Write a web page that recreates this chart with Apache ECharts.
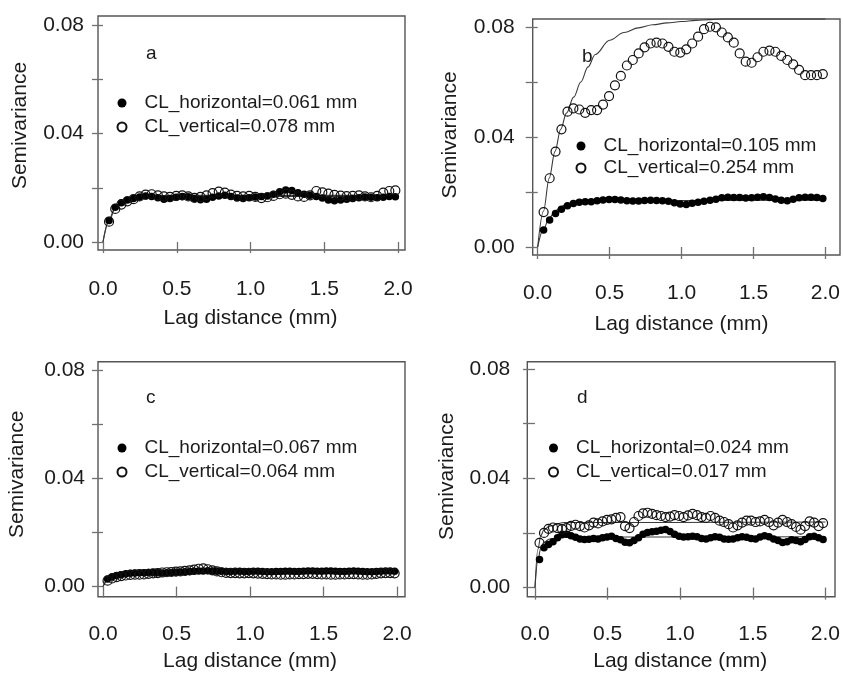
<!DOCTYPE html>
<html><head><meta charset="utf-8">
<script src="https://cdn.jsdelivr.net/npm/echarts@6/dist/echarts.min.js"></script>
<style>html,body{margin:0;background:#fff}#c{width:843px;height:673px}</style>
</head><body><div id="c"></div>
<script>
// ---- data ----
const xTicks = [0, 0.5, 1.0, 1.5, 2.0];
const yTicks = [0.00, 0.04, 0.08];
const panelLetters = ['a', 'b', 'c', 'd'];
const legendH = ['CL_horizontal=0.061 mm', 'CL_horizontal=0.105 mm', 'CL_horizontal=0.067 mm', 'CL_horizontal=0.024 mm'];
const legendV = ['CL_vertical=0.078 mm', 'CL_vertical=0.254 mm', 'CL_vertical=0.064 mm', 'CL_vertical=0.017 mm'];

const lags48 = [0.041,0.083,0.124,0.165,0.207,0.248,0.289,0.330,0.372,0.413,0.454,0.496,0.537,0.578,0.620,0.661,0.702,0.743,0.785,0.826,0.867,0.909,0.950,0.991,1.033,1.074,1.115,1.156,1.198,1.239,1.280,1.322,1.363,1.404,1.446,1.487,1.528,1.569,1.611,1.652,1.693,1.735,1.776,1.817,1.859,1.900,1.941,1.982];
const lags64 = [0.031,0.062,0.093,0.124,0.155,0.186,0.217,0.248,0.279,0.310,0.341,0.372,0.403,0.434,0.465,0.496,0.527,0.558,0.589,0.620,0.651,0.682,0.713,0.744,0.775,0.806,0.837,0.868,0.899,0.930,0.961,0.992,1.023,1.054,1.085,1.116,1.147,1.178,1.209,1.240,1.271,1.302,1.333,1.364,1.395,1.426,1.457,1.488,1.519,1.550,1.581,1.612,1.643,1.674,1.705,1.736,1.767,1.798,1.829,1.860,1.891,1.922,1.953,1.984];

const aHoriz = [0.0079,0.0128,0.0145,0.0155,0.0160,0.0166,0.0170,0.0168,0.0163,0.0158,0.0160,0.0165,0.0168,0.0167,0.0160,0.0156,0.0158,0.0165,0.0170,0.0172,0.0168,0.0162,0.0160,0.0163,0.0166,0.0168,0.0170,0.0176,0.0185,0.0192,0.0190,0.0182,0.0176,0.0172,0.0168,0.0162,0.0155,0.0152,0.0155,0.0158,0.0160,0.0163,0.0166,0.0165,0.0163,0.0165,0.0168,0.0167];
const aVert  = [0.0075,0.0122,0.0138,0.0150,0.0158,0.0168,0.0175,0.0176,0.0172,0.0168,0.0166,0.0170,0.0172,0.0168,0.0163,0.0166,0.0172,0.0180,0.0186,0.0182,0.0175,0.0170,0.0168,0.0170,0.0166,0.0162,0.0165,0.0170,0.0176,0.0178,0.0174,0.0168,0.0166,0.0172,0.0188,0.0183,0.0178,0.0174,0.0171,0.0169,0.0170,0.0172,0.0168,0.0165,0.0170,0.0182,0.0188,0.0190];
const bHoriz = [0.0062,0.0098,0.0122,0.0137,0.0150,0.0158,0.0163,0.0165,0.0165,0.0168,0.0171,0.0173,0.0173,0.0171,0.0168,0.0167,0.0167,0.0169,0.0170,0.0169,0.0168,0.0166,0.0161,0.0156,0.0155,0.0159,0.0163,0.0166,0.0170,0.0174,0.0179,0.0181,0.0180,0.0180,0.0178,0.0179,0.0181,0.0183,0.0180,0.0175,0.0170,0.0168,0.0174,0.0179,0.0181,0.0181,0.0180,0.0176];
const bVert  = [0.0127,0.0250,0.0347,0.0428,0.0492,0.0504,0.0500,0.0488,0.0498,0.0498,0.0518,0.0549,0.0588,0.0622,0.0660,0.0680,0.0704,0.0726,0.0740,0.0743,0.0740,0.0728,0.0710,0.0707,0.0719,0.0740,0.0765,0.0792,0.0801,0.0799,0.0780,0.0762,0.0743,0.0704,0.0674,0.0670,0.0690,0.0710,0.0714,0.0710,0.0695,0.0680,0.0664,0.0644,0.0625,0.0625,0.0625,0.0629];
const cHoriz = [0.0028,0.0036,0.0041,0.0044,0.0047,0.0049,0.0050,0.0051,0.0051,0.0052,0.0052,0.0051,0.0050,0.0051,0.0052,0.0053,0.0054,0.0055,0.0056,0.0057,0.0058,0.0058,0.0059,0.0058,0.0057,0.0057,0.0056,0.0056,0.0057,0.0057,0.0056,0.0056,0.0057,0.0057,0.0056,0.0055,0.0055,0.0056,0.0056,0.0057,0.0057,0.0056,0.0056,0.0057,0.0058,0.0058,0.0057,0.0057,0.0058,0.0058,0.0057,0.0056,0.0056,0.0057,0.0058,0.0057,0.0056,0.0055,0.0055,0.0056,0.0057,0.0058,0.0058,0.0057];
const cVert  = [0.0022,0.0030,0.0035,0.0039,0.0041,0.0043,0.0044,0.0044,0.0045,0.0047,0.0049,0.0050,0.0052,0.0053,0.0054,0.0055,0.0056,0.0058,0.0060,0.0063,0.0066,0.0067,0.0064,0.0060,0.0056,0.0053,0.0051,0.0050,0.0050,0.0049,0.0049,0.0050,0.0049,0.0048,0.0047,0.0046,0.0045,0.0045,0.0044,0.0044,0.0045,0.0045,0.0046,0.0046,0.0047,0.0047,0.0046,0.0045,0.0045,0.0044,0.0044,0.0045,0.0045,0.0046,0.0046,0.0045,0.0044,0.0044,0.0045,0.0047,0.0049,0.0050,0.0050,0.0049];
const dHoriz = [0.0103,0.0146,0.0158,0.0168,0.0182,0.0193,0.0195,0.0190,0.0184,0.0178,0.0176,0.0177,0.0180,0.0178,0.0182,0.0185,0.0188,0.0180,0.0175,0.0166,0.0164,0.0172,0.0182,0.0195,0.0202,0.0204,0.0206,0.0210,0.0213,0.0205,0.0195,0.0188,0.0185,0.0186,0.0188,0.0186,0.0180,0.0178,0.0182,0.0186,0.0184,0.0178,0.0177,0.0178,0.0182,0.0186,0.0184,0.0180,0.0178,0.0185,0.0190,0.0186,0.0178,0.0172,0.0165,0.0168,0.0175,0.0172,0.0168,0.0176,0.0186,0.0188,0.0182,0.0176];
const dVert  = [0.0164,0.0200,0.0215,0.0220,0.0218,0.0214,0.0218,0.0226,0.0230,0.0225,0.0220,0.0228,0.0238,0.0235,0.0242,0.0248,0.0250,0.0255,0.0258,0.0225,0.0218,0.0240,0.0262,0.0272,0.0274,0.0270,0.0265,0.0262,0.0258,0.0260,0.0265,0.0262,0.0258,0.0264,0.0270,0.0265,0.0258,0.0255,0.0262,0.0255,0.0245,0.0240,0.0232,0.0220,0.0228,0.0238,0.0245,0.0245,0.0240,0.0242,0.0248,0.0240,0.0228,0.0238,0.0248,0.0240,0.0232,0.0222,0.0212,0.0225,0.0242,0.0238,0.0225,0.0236];

// fitted model curves
const aFitX = [0,0.04,0.08,0.12,0.16,0.2,0.3,0.5,2.0];
const aFitH = [0,0.0080,0.0125,0.0145,0.0157,0.0162,0.0167,0.0168,0.0168];
const aFitV = [0,0.0075,0.0120,0.0142,0.0155,0.0163,0.0170,0.0172,0.0172];
const bFitHX = [0,0.04,0.08,0.12,0.16,0.2,0.3,0.5,2.0];
const bFitH = [0,0.0065,0.0105,0.0130,0.0146,0.0156,0.0165,0.0169,0.0170];
const bFitVX = [0,0.04,0.08,0.12,0.16,0.2,0.25,0.3,0.35,0.4,0.5,0.6,0.7,0.8,0.9,1.0,1.1,1.2,1.3,2.0];
const bFitV = [0,0.0130,0.0250,0.0347,0.0428,0.0487,0.0545,0.0600,0.0655,0.0700,0.0752,0.0780,0.0797,0.0808,0.0815,0.0820,0.0824,0.0827,0.0829,0.0829];
const cFitX = [0,0.03,0.06,0.1,0.2,0.3,0.5,2.0];
const cFitH = [0,0.0025,0.0035,0.0042,0.0049,0.0052,0.0054,0.0055];
const cFitV = [0,0.0022,0.0031,0.0038,0.0044,0.0047,0.0050,0.0051];
const dFitX = [0,0.02,0.04,0.06,0.1,0.2,2.0];
const dFitH = [0,0.0100,0.0145,0.0165,0.0178,0.0185,0.0186];
const dFitV = [0,0.0140,0.0190,0.0210,0.0225,0.0238,0.0240];

// ---- layout (pixels) ----
const layout = [
  {box:[98,16,307,234],    data:[103,25,295,217],     xOff:8,   yOff:5,   xMargin:29, xNameGap:58, yMargin:14, yNameGap:67, yNamePad:[0,0,0,16], letterPos:[146,44],  legendPos:[116.5,93],  legendGap:4, tick:11},
  {box:[532.7,19,307.3,236],data:[537.7,27,295.6,220], xOff:8,   yOff:5,   xMargin:28, xNameGap:59, yMargin:18, yNameGap:72, yNamePad:[0,0,0,4],  letterPos:[582,47],  legendPos:[575.5,136], legendGap:2, tick:12},
  {box:[98,361.7,307,235],  data:[103,370,294,217.3],  xOff:9.4, yOff:5,   xMargin:27.6, xNameGap:55, yMargin:13, yNameGap:70, yNamePad:[0,0,0,8], letterPos:[146,388], legendPos:[116.5,438], legendGap:4, tick:11},
  {box:[527.3,361.7,307.7,235],data:[535,369,290.7,219.3],xOff:8.4,yOff:7.7, xMargin:27.6, xNameGap:55, yMargin:17, yNameGap:70, yNamePad:[0,0,0,4], letterPos:[577,388], legendPos:[548,438], legendGap:4, tick:12}
];

const horiz = [aHoriz, bHoriz, cHoriz, dHoriz];
const vert = [aVert, bVert, cVert, dVert];
const lagsFor = [lags48, lags48, lags64, lags64];
const fits = [
  [[aFitX, aFitH], [aFitX, aFitV]],
  [[bFitHX, bFitH], [bFitVX, bFitV]],
  [[cFitX, cFitH], [cFitX, cFitV]],
  [[dFitX, dFitH], [dFitX, dFitV]]
];

const TXT = '#1b1b1b';
const FONT = '"Liberation Sans", Arial, Helvetica, sans-serif';
const zip = (xs, ys) => xs.map((x, i) => [x, ys[i]]);

const grid = [], xAxis = [], yAxis = [], series = [], legend = [], title = [];
layout.forEach((L, i) => {
  grid.push({left:L.box[0], top:L.box[1], width:L.box[2], height:L.box[3], show:true, borderColor:'#555', borderWidth:1.4, backgroundColor:'rgba(0,0,0,0)'});
  grid.push({left:L.data[0], top:L.data[1], width:L.data[2], height:L.data[3]});
  xAxis.push({gridIndex:2*i, show:false, type:'value', min:0, max:1});
  yAxis.push({gridIndex:2*i, show:false, type:'value', min:0, max:1});
  xAxis.push({
    gridIndex:2*i+1, type:'value', min:xTicks[0], max:xTicks[xTicks.length-1], interval:xTicks[1]-xTicks[0],
    position:'bottom', offset:L.xOff,
    axisLine:{show:false}, splitLine:{show:false},
    axisTick:{show:true, length:L.tick, lineStyle:{color:'#707070', width:1.3}},
    axisLabel:{fontSize:21, color:TXT, fontFamily:FONT, margin:L.xMargin, formatter:v => v.toFixed(1)},
    name:'Lag distance (mm)', nameLocation:'middle', nameGap:L.xNameGap,
    nameTextStyle:{fontSize:21, color:TXT, fontFamily:FONT}
  });
  yAxis.push({
    gridIndex:2*i+1, type:'value', min:0, max:0.08, interval:0.02,
    position:'left', offset:L.yOff,
    axisLine:{show:false}, splitLine:{show:false},
    axisTick:{show:true, length:L.tick, lineStyle:{color:'#707070', width:1.3}},
    axisLabel:{fontSize:21, color:TXT, fontFamily:FONT, margin:L.yMargin,
      formatter:v => yTicks.some(t => Math.abs(t - v) < 1e-6) ? v.toFixed(2) : ''},
    name:'Semivariance', nameLocation:'middle', nameGap:L.yNameGap, nameRotate:90,
    nameTextStyle:{fontSize:21, color:TXT, fontFamily:FONT, padding:L.yNamePad}
  });
  const ax = 2*i+1;
  fits[i].forEach((f, k) => {
    series.push({type:'line', name:'fit'+i+k, xAxisIndex:ax, yAxisIndex:ax, data:zip(f[0], f[1]),
      showSymbol:false, symbol:'none', smooth:0.35, smoothMonotone:'x', clip:false, silent:true,
      lineStyle:{color:'#3a3a3a', width:1.1}, z:1});
  });
  series.push({type:'scatter', name:legendV[i], xAxisIndex:ax, yAxisIndex:ax, data:zip(lagsFor[i], vert[i]),
    symbol:'circle', symbolSize:9, clip:false,
    itemStyle:{color:'rgba(255,255,255,0)', borderColor:'#111', borderWidth:1.2, opacity:1}, z:3});
  series.push({type:'scatter', name:legendH[i], xAxisIndex:ax, yAxisIndex:ax, data:zip(lagsFor[i], horiz[i]),
    symbol:'circle', symbolSize:7.5, clip:false,
    itemStyle:{color:'#000', opacity:1}, z:2});
  legend.push({
    data:[legendH[i], legendV[i]], orient:'vertical', left:L.legendPos[0], top:L.legendPos[1],
    itemWidth:9, itemHeight:9, itemGap:L.legendGap, padding:0, selectedMode:false,
    textStyle:{fontSize:19, color:TXT, fontFamily:FONT, lineHeight:20, padding:[0,0,0,13]}
  });
  title.push({text:panelLetters[i], left:L.letterPos[0], top:L.letterPos[1], padding:0,
    textStyle:{fontSize:19, fontWeight:'normal', color:TXT, fontFamily:FONT}});
});

const chart = echarts.init(document.getElementById('c'), null, {renderer:'canvas'});
chart.setOption({
  animation:false,
  backgroundColor:'#fff',
  textStyle:{fontFamily:FONT},
  title, legend, grid, xAxis, yAxis, series
});
</script>
</body></html>
